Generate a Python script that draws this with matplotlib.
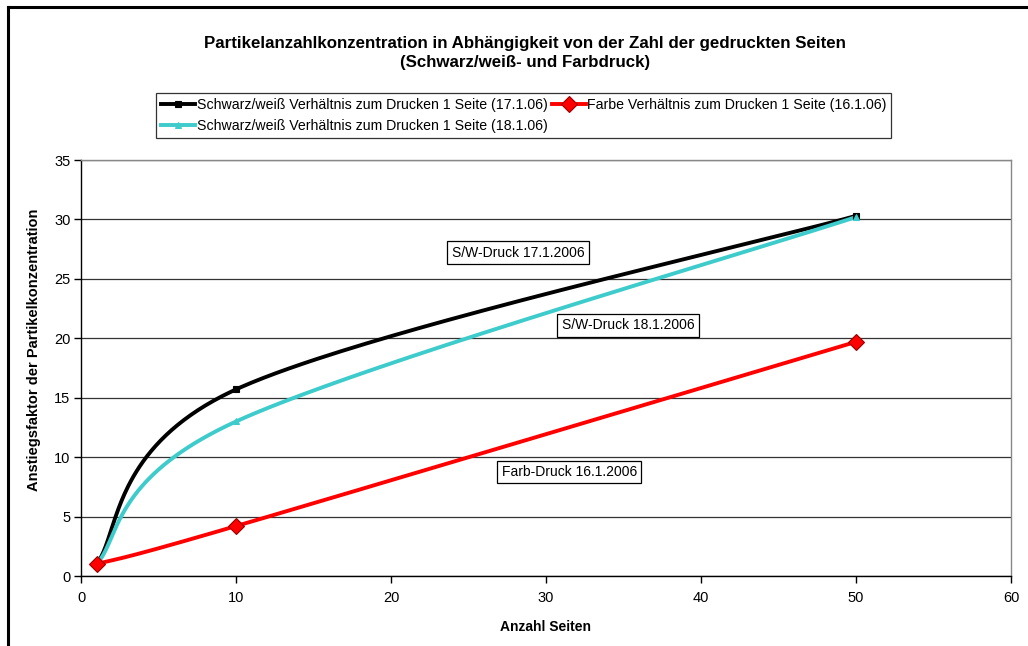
import numpy as np
import matplotlib
matplotlib.use("Agg")
import matplotlib.pyplot as plt
from matplotlib.lines import Line2D

plt.rcParams['font.family'] = ['Liberation Sans', 'DejaVu Sans']

# Seiten (x) und Anstiegsfaktor (y)
seiten = [1, 10, 50]
sw_17 = [1.0, 15.7, 30.3]
farbe_16 = [1.0, 4.2, 19.7]
sw_18 = [1.0, 13.0, 30.2]

labels = [
    "Schwarz/weiß Verhältnis zum Drucken 1 Seite (17.1.06)",
    "Schwarz/weiß Verhältnis zum Drucken 1 Seite (18.1.06)",
    "Farbe Verhältnis zum Drucken 1 Seite (16.1.06)",
]
notes = [("S/W-Druck 17.1.2006", 28.2, 27.2),
         ("S/W-Druck 18.1.2006", 35.3, 21.1),
         ("Farb-Druck 16.1.2006", 31.5, 8.75)]


def smooth(xs, ys, n=80):
    """Spreadsheet-style smoothed line: cubic Bezier segments with
    control points from neighbour differences (tension 1/6)."""
    p = np.column_stack([xs, ys]).astype(float)
    m = len(p)
    out = []
    for i in range(m - 1):
        p0 = p[i]
        p1 = p[i + 1]
        prev = p[i - 1] if i > 0 else p[i]
        nxt = p[i + 2] if i + 2 < m else p[i + 1]
        c1 = p0 + (p1 - prev) / 6.0
        c2 = p1 - (nxt - p0) / 6.0
        t = np.linspace(0, 1, n)[:, None]
        seg = ((1 - t) ** 3) * p0 + 3 * ((1 - t) ** 2) * t * c1 \
            + 3 * (1 - t) * t ** 2 * c2 + t ** 3 * p1
        out.append(seg if i == 0 else seg[1:])
    s = np.vstack(out)
    return s[:, 0], s[:, 1]


fig = plt.figure(figsize=(10.28, 6.46), dpi=100)
ax = fig.add_axes([81 / 1028, 1 - 576 / 646, 930 / 1028, 416 / 646])

series = [
    (sw_17, "#000000", "s", "#000000", "#000000", 5),
    (sw_18, "#3ECBCB", "^", "#3ECBCB", "#3ECBCB", 5),
    (farbe_16, "#FF0000", "D", "#FF0000", "#990000", 8),
]
handles = []
for (vals, col, mk, mfc, mec, ms), lab in zip(series, labels):
    sx, sy = smooth(seiten, vals)
    ax.plot(sx, sy, color=col, lw=2.8, solid_capstyle='round', zorder=3)
    ax.plot(seiten, vals, ls='none', marker=mk, ms=ms, mfc=mfc, mec=mec,
            mew=0.8, zorder=4)
    handles.append(Line2D([], [], color=col, lw=2.8, marker=mk, ms=ms,
                          mfc=mfc, mec=mec, mew=0.8))

ax.set_xlim(0, 60)
ax.set_ylim(0, 35)
ax.set_xticks(np.arange(0, 61, 10))
ax.set_yticks(np.arange(0, 36, 5))
ax.yaxis.grid(True, color='#333333', lw=0.9)
ax.set_axisbelow(True)
ax.tick_params(labelsize=10.5, length=5, width=1, direction='out')
ax.tick_params(axis='x', pad=6)
ax.tick_params(axis='y', pad=2.5)
for s in ['left', 'bottom']:
    ax.spines[s].set_color('black')
    ax.spines[s].set_linewidth(1.0)
for s in ['right', 'top']:
    ax.spines[s].set_color('#888888')
    ax.spines[s].set_linewidth(1.0)

ax.set_xlabel("Anzahl Seiten", fontsize=10, fontweight='bold')
ax.xaxis.set_label_coords(0.5, -(620 - 576) / 416)
ax.set_ylabel("Anstiegsfaktor der Partikelkonzentration", fontsize=10.5,
              fontweight='bold')
ax.yaxis.set_label_coords(-(81 - 41) / 930, (576 - 350) / 416)

for txt, x, y in notes:
    ax.text(x, y, txt, fontsize=10, ha='center', va='center', zorder=5,
            bbox=dict(boxstyle='square,pad=0.32', fc='white', ec='black', lw=0.9))

fig.text(525 / 1028, 1 - 53 / 646,
         "Partikelanzahlkonzentration in Abhängigkeit von der Zahl der gedruckten Seiten\n"
         "(Schwarz/weiß- und Farbdruck)",
         ha='center', va='center', fontsize=12.2, fontweight='bold', linespacing=1.3)

leg = fig.legend(handles, labels, ncol=2, loc='upper left',
                 bbox_to_anchor=(156 / 1028, 1 - 93 / 646),
                 frameon=True, fancybox=False, fontsize=10.2, handlelength=2.4,
                 handletextpad=0.1, columnspacing=0.3, labelspacing=0.5,
                 borderpad=0.36, borderaxespad=0)
leg.get_frame().set_edgecolor('black')
leg.get_frame().set_linewidth(0.9)

# outer chart frame
fig.add_artist(Line2D([8 / 1028, 8 / 1028], [0, 1 - 7 / 646], color='black', lw=2.2,
                      transform=fig.transFigure))
fig.add_artist(Line2D([8 / 1028, 1], [1 - 7 / 646, 1 - 7 / 646], color='black', lw=2.2,
                      transform=fig.transFigure))

fig.savefig("out.png", dpi=100)
